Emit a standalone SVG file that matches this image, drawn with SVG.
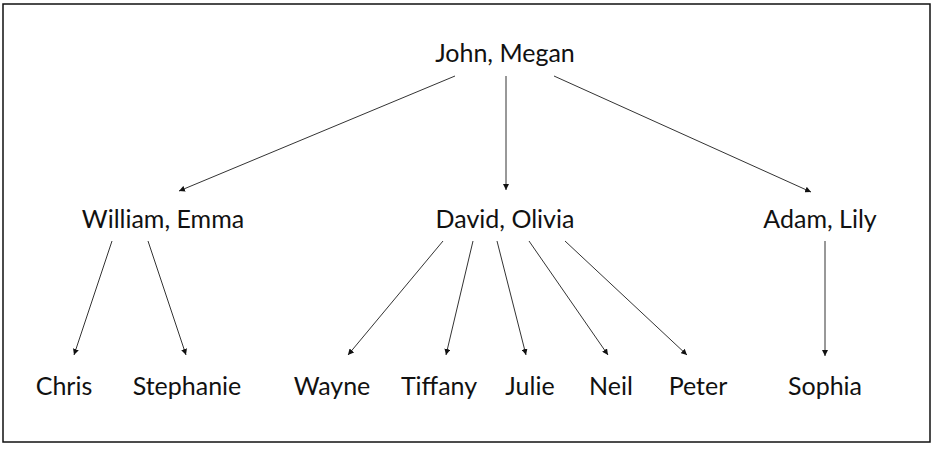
<svg xmlns="http://www.w3.org/2000/svg" width="942" height="450" viewBox="0 0 942 450">
<style>
  .lbl { font-family: Lato, "Open Sans", "Liberation Sans", sans-serif; font-size: 25px; fill: #111; text-anchor: middle; }
  .edge { stroke: #333; stroke-width: 1; fill: none; marker-end: url(#arr); }
</style>
<defs>
  <marker id="arr" viewBox="0 0 10 10" refX="10" refY="5" markerWidth="6" markerHeight="6" markerUnits="userSpaceOnUse" orient="auto">
    <path d="M0,0 L10,5 L0,10 z" fill="#111"/>
  </marker>
</defs>
<rect x="0" y="0" width="942" height="450" fill="#fff"/>
<rect x="3" y="4" width="927" height="438" fill="#fff" stroke="#111" stroke-width="1.5"/>
<g id="connectors">
  <line class="edge" x1="455" y1="76" x2="179" y2="191"/>
  <line class="edge" x1="506" y1="76" x2="506" y2="190"/>
  <line class="edge" x1="554" y1="76" x2="811" y2="192"/>
  <line class="edge" x1="112" y1="241" x2="74" y2="355"/>
  <line class="edge" x1="148" y1="241" x2="186" y2="355"/>
  <line class="edge" x1="443" y1="241" x2="348" y2="355"/>
  <line class="edge" x1="473" y1="241" x2="446" y2="355"/>
  <line class="edge" x1="497" y1="241" x2="526" y2="355"/>
  <line class="edge" x1="529" y1="241" x2="608" y2="355"/>
  <line class="edge" x1="565" y1="241" x2="687" y2="355"/>
  <line class="edge" x1="825" y1="241" x2="825" y2="356"/>
</g>
<g id="john-megan"><text class="lbl" x="505" y="62">John, Megan</text></g>
<g id="william-emma"><text class="lbl" x="163" y="228">William, Emma</text></g>
<g id="david-olivia"><text class="lbl" x="505" y="228">David, Olivia</text></g>
<g id="adam-lily"><text class="lbl" x="820" y="228">Adam, Lily</text></g>
<g id="chris"><text class="lbl" x="64" y="395">Chris</text></g>
<g id="stephanie"><text class="lbl" x="187" y="395">Stephanie</text></g>
<g id="wayne"><text class="lbl" x="332" y="395">Wayne</text></g>
<g id="tiffany"><text class="lbl" x="439" y="395">Tiffany</text></g>
<g id="julie"><text class="lbl" x="530" y="395">Julie</text></g>
<g id="neil"><text class="lbl" x="611" y="395">Neil</text></g>
<g id="peter"><text class="lbl" x="698" y="395">Peter</text></g>
<g id="sophia"><text class="lbl" x="825" y="395">Sophia</text></g>
</svg>
